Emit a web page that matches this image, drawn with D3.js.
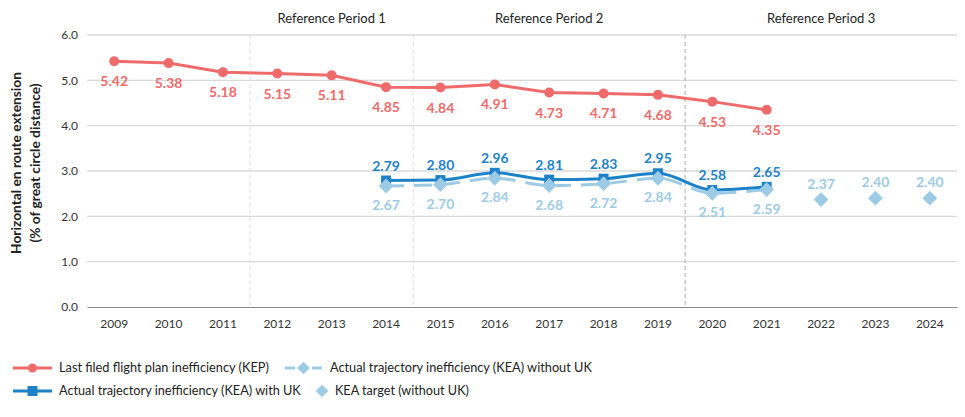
<!DOCTYPE html>
<html><head><meta charset="utf-8">
<script src="https://cdn.jsdelivr.net/npm/d3@7"></script>
<style>
body{margin:0;background:#fff;}
text{font-family:Lato,"Noto Sans",sans-serif;}
</style></head>
<body><svg id="c" width="965" height="417"></svg>
<script>
const years = ["2009","2010","2011","2012","2013","2014","2015","2016","2017","2018","2019","2020","2021","2022","2023","2024"];
const kep = [5.42,5.38,5.18,5.15,5.11,4.85,4.84,4.91,4.73,4.71,4.68,4.53,4.35,null,null,null];
const keaUK = [null,null,null,null,null,2.79,2.80,2.96,2.81,2.83,2.95,2.58,2.65,null,null,null];
const keaNoUK = [null,null,null,null,null,2.67,2.70,2.84,2.68,2.72,2.84,2.51,2.59,null,null,null];
const keaTarget = [null,null,null,null,null,null,null,null,null,null,null,null,null,2.37,2.40,2.40];
const yTicks = [0,1,2,3,4,5,6];
const periods = [{name:"Reference Period 1",from:"2012",to:"2014"},{name:"Reference Period 2",from:"2015",to:"2019"},{name:"Reference Period 3",from:"2020",to:"2024"}];

const cRed="#ef6b6b", cBlue="#1e82c8", cLight="#9dcbe5";
const svg=d3.select("#c");
const L=87,R=957,T=35,B=307;
const x=d3.scaleBand().domain(years).range([L,R]);
const y=d3.scaleLinear().domain([0,6]).range([B,T]);
const cx=d=>x(d)+x.bandwidth()/2;

function fit(sel,target){const n=sel.node();const w=n.getComputedTextLength();const fs=+sel.attr("font-size");sel.attr("font-size",fs*target/w);}

// gridlines
svg.append("g").selectAll("line").data(yTicks.filter(v=>v>0)).join("line")
 .attr("x1",L).attr("x2",R).attr("y1",d=>y(d)).attr("y2",d=>y(d))
 .attr("stroke","#d9d9d9").attr("stroke-width",1.3);

// y axis labels
const ya=svg.append("g").attr("transform",`translate(${L},0)`).call(d3.axisLeft(y).tickValues(yTicks).tickFormat(d3.format(".1f")).tickSize(0).tickPadding(9));
ya.select(".domain").remove();
ya.selectAll("text").attr("font-size",12).attr("fill","#333");

// x axis
const xa=svg.append("g").attr("transform",`translate(0,${B})`).call(d3.axisBottom(x).tickSize(0).tickPadding(12));
xa.select(".domain").attr("stroke","#888").attr("stroke-width",1.2);
xa.selectAll("text").attr("font-size",12).attr("fill","#333");

// period separators
periods.forEach((p,i)=>{
  const x0=x(p.from), x1=x(p.to)+x.bandwidth();
  svg.append("line").attr("x1",x0).attr("x2",x0).attr("y1",T).attr("y2",B)
    .attr("stroke",i===2?"#aaa":"#ddd").attr("stroke-width",1).attr("stroke-dasharray","4,3");
  svg.append("text").attr("x",(x0+x1)/2).attr("y",23).attr("text-anchor","middle")
    .attr("font-size",13).attr("fill","#222").text(p.name);
});

// y title
const yt=svg.append("text").attr("transform",`translate(21,163) rotate(-90)`).attr("text-anchor","middle")
 .attr("font-size",14.5).attr("font-weight","bold").attr("fill","#222");
yt.append("tspan").attr("x",0).attr("dy",0).text("Horizontal en route extension");
yt.append("tspan").attr("x",0).attr("dy",19).text("(% of great circle distance)");
{const t=yt.select("tspan").node();const w=t.getComputedTextLength();yt.attr("font-size",14.5*182/w);}

const idx=years.map((d,i)=>i);
function pts(arr){return idx.filter(i=>arr[i]!=null).map(i=>({yr:years[i],v:arr[i]}));}

// KEA without UK dashed
const pNo=pts(keaNoUK);
svg.append("path").datum(pNo).attr("fill","none").attr("stroke",cLight).attr("stroke-width",3)
 .attr("stroke-dasharray","18,10")
 .attr("d",d3.line().x(d=>cx(d.yr)).y(d=>y(d.v)).curve(d3.curveMonotoneX));
// KEA with UK
const pUK=pts(keaUK);
svg.append("path").datum(pUK).attr("fill","none").attr("stroke",cBlue).attr("stroke-width",3)
 .attr("d",d3.line().x(d=>cx(d.yr)).y(d=>y(d.v)).curve(d3.curveMonotoneX));
// KEP
const pK=pts(kep);
svg.append("path").datum(pK).attr("fill","none").attr("stroke",cRed).attr("stroke-width",3)
 .attr("d",d3.line().x(d=>cx(d.yr)).y(d=>y(d.v)));

// markers
svg.append("g").selectAll("rect").data(pUK).join("rect")
 .attr("x",d=>cx(d.yr)-5).attr("y",d=>y(d.v)-5).attr("width",10).attr("height",10).attr("fill",cBlue);
const dia=d3.symbol().type(d3.symbolSquare).size(110);
svg.append("g").selectAll("path").data(pNo).join("path")
 .attr("transform",d=>`translate(${cx(d.yr)},${y(d.v)}) rotate(45)`).attr("d",dia).attr("fill",cLight);
const pT=pts(keaTarget);
svg.append("g").selectAll("path").data(pT).join("path")
 .attr("transform",d=>`translate(${cx(d.yr)},${y(d.v)}) rotate(45)`).attr("d",dia).attr("fill",cLight);
svg.append("g").selectAll("circle").data(pK).join("circle")
 .attr("cx",d=>cx(d.yr)).attr("cy",d=>y(d.v)).attr("r",5).attr("fill",cRed);

// labels
const f=d3.format(".2f");
svg.append("g").selectAll("text").data(pK).join("text")
 .attr("x",d=>cx(d.yr)).attr("y",d=>y(d.v)+25).attr("text-anchor","middle")
 .attr("font-size",14).attr("font-weight","bold").attr("fill",cRed).text(d=>f(d.v));
svg.append("g").selectAll("text").data(pUK).join("text")
 .attr("x",d=>cx(d.yr)).attr("y",d=>y(d.v)-10).attr("text-anchor","middle")
 .attr("font-size",14).attr("font-weight","bold").attr("fill",cBlue).text(d=>f(d.v));
svg.append("g").selectAll("text").data(pNo).join("text")
 .attr("x",d=>cx(d.yr)).attr("y",d=>y(d.v)+24).attr("text-anchor","middle")
 .attr("font-size",14).attr("font-weight","bold").attr("fill",cLight).text(d=>f(d.v));
svg.append("g").selectAll("text").data(pT).join("text")
 .attr("x",d=>cx(d.yr)).attr("y",d=>y(d.v)-11).attr("text-anchor","middle")
 .attr("font-size",14).attr("font-weight","bold").attr("fill",cLight).text(d=>f(d.v));

// legend
const lg=svg.append("g");
const items=[
 {t:"Last filed flight plan inefficiency (KEP)",c:cRed,m:"circle",line:"solid",x:13,y:368,w:210},
 {t:"Actual trajectory inefficiency (KEA) without UK",c:cLight,m:"diamond",line:"dash",x:285,y:368,w:262},
 {t:"Actual trajectory inefficiency (KEA) with UK",c:cBlue,m:"square",line:"solid",x:13,y:391,w:242},
 {t:"KEA target (without UK)",c:cLight,m:"diamond",line:"none",x:315,y:391,w:134}
];
items.forEach(it=>{
  const g=lg.append("g").attr("transform",`translate(${it.x},${it.y})`);
  let tx=46;
  if(it.line==="solid"){g.append("line").attr("x1",0).attr("x2",39).attr("stroke",it.c).attr("stroke-width",3);}
  if(it.line==="dash"){
    g.append("line").attr("x1",0).attr("x2",10).attr("stroke",it.c).attr("stroke-width",3);
    g.append("line").attr("x1",27).attr("x2",37).attr("stroke",it.c).attr("stroke-width",3);
  }
  if(it.m==="circle")g.append("circle").attr("cx",19.5).attr("r",4.5).attr("fill",it.c);
  if(it.m==="square")g.append("rect").attr("x",14.5).attr("y",-5).attr("width",10).attr("height",10).attr("fill",it.c);
  if(it.m==="diamond"){
    const mx=it.line==="none"?7:18.5;
    g.append("path").attr("transform",`translate(${mx},0) rotate(45)`).attr("d",d3.symbol().type(d3.symbolSquare).size(80)).attr("fill",it.c);
    tx=it.line==="none"?20:45;
  }
  const t=g.append("text").attr("x",tx).attr("y",0).attr("dy","0.35em").attr("font-size",13.5).attr("fill","#222").text(it.t);
  fit(t,it.w);
});
</script></body></html>
